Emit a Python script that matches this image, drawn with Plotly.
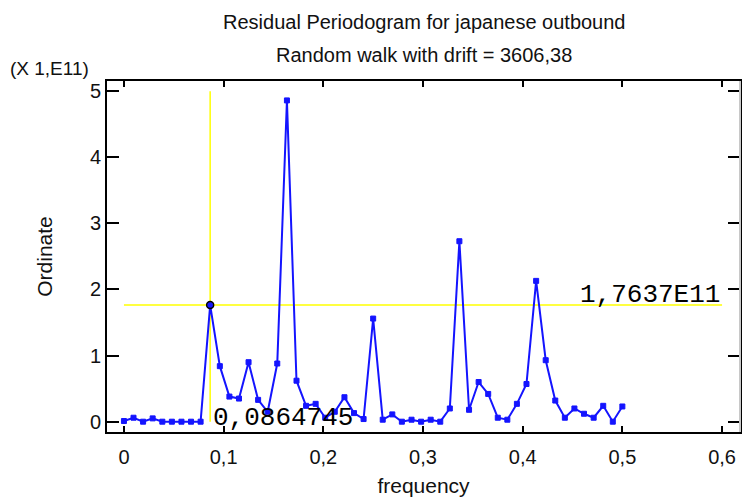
import plotly.graph_objects as go

# Fourier frequencies (cycles per period)
frequency = [
    0.0, 0.0096, 0.0192, 0.0288, 0.0385, 0.0481, 0.0577, 0.0673, 0.0769, 0.0865,
    0.0962, 0.1058, 0.1154, 0.1250, 0.1346, 0.1442, 0.1538, 0.1635, 0.1731, 0.1827,
    0.1923, 0.2019, 0.2115, 0.2212, 0.2308, 0.2404, 0.2500, 0.2596, 0.2692, 0.2788,
    0.2885, 0.2981, 0.3077, 0.3173, 0.3269, 0.3365, 0.3462, 0.3558, 0.3654, 0.3750,
    0.3846, 0.3942, 0.4038, 0.4135, 0.4231, 0.4327, 0.4423, 0.4519, 0.4615, 0.4712,
    0.4808, 0.4904, 0.5000,
]

# Periodogram ordinates, in units of 1E11
ordinate = [
    0.01, 0.06, 0.00, 0.05, 0.00, 0.00, 0.00, 0.00, 0.00, 1.7637,
    0.84, 0.38, 0.35, 0.90, 0.33, 0.15, 0.88, 4.86, 0.62, 0.24,
    0.27, 0.06, 0.15, 0.37, 0.13, 0.04, 1.56, 0.03, 0.11, 0.00,
    0.03, 0.00, 0.03, 0.00, 0.20, 2.73, 0.18, 0.60, 0.42, 0.06,
    0.03, 0.27, 0.57, 2.13, 0.93, 0.32, 0.06, 0.20, 0.12, 0.06,
    0.24, 0.00, 0.23,
]

# Cursor read-out
cursor_freq = 0.0864745
cursor_ord = 1.7637
cursor_freq_text = "0,0864745"
cursor_ord_text = "1,7637E11"

x_tick_vals = [0, 0.1, 0.2, 0.3, 0.4, 0.5, 0.6]
x_tick_text = ["0", "0,1", "0,2", "0,3", "0,4", "0,5", "0,6"]
y_tick_vals = [0, 1, 2, 3, 4, 5]
y_tick_text = ["0", "1", "2", "3", "4", "5"]

title_line1 = "Residual Periodogram for japanese outbound"
title_line2 = "Random walk with drift = 3606,38"

W, H = 742, 497
L, R, T, B = 107, 0, 81, 65

tick_font = dict(family="Liberation Sans, Arial, sans-serif", size=20, color="#111111")
axis_title_font = dict(family="Liberation Sans, Arial, sans-serif", size=21, color="#111111")
title_font = dict(family="Liberation Sans, Arial, sans-serif", size=20, color="#111111")
readout_font = dict(family="Liberation Mono, DejaVu Sans Mono, monospace", size=26,
                    color="#000000")


def px_to_paper(xp, yp):
    """Convert pixel position (from the top-left of the page) to paper coords."""
    return (xp - L) / (W - L - R), (H - B - yp) / (H - T - B)


fig = go.Figure()

fig.add_trace(go.Scatter(
    x=frequency, y=ordinate, mode="lines+markers",
    line=dict(color="#1414ff", width=2),
    marker=dict(symbol="square", size=5, color="#1414ff",
                line=dict(color="#1414ff", width=1)),
    showlegend=False, hoverinfo="x+y",
))

# highlighted periodogram point under the cursor
fig.add_trace(go.Scatter(
    x=[cursor_freq], y=[cursor_ord], mode="markers",
    marker=dict(symbol="circle-open", size=7, color="#000000", line=dict(width=1.5)),
    showlegend=False, hoverinfo="skip",
))

# cursor cross-hair
fig.add_shape(type="line", xref="x", yref="y", layer="below",
              x0=cursor_freq, x1=cursor_freq, y0=0, y1=5,
              line=dict(color="#ffff00", width=1.5))
fig.add_shape(type="line", xref="x", yref="y", layer="below",
              x0=0, x1=0.6, y0=cursor_ord, y1=cursor_ord,
              line=dict(color="#ffff00", width=1.5))

# light right-hand border of the plot frame
fig.add_shape(type="line", xref="paper", yref="paper",
              x0=1, x1=1, y0=0, y1=1, line=dict(color="#c8c8c8", width=2))

fig.add_annotation(x=cursor_freq, y=0, xref="x", yref="y", text=cursor_freq_text,
                   showarrow=False, xanchor="left", yanchor="middle", xshift=1, yshift=4,
                   font=readout_font)
fig.add_annotation(x=0.6, y=cursor_ord, xref="x", yref="y", text=cursor_ord_text,
                   showarrow=False, xanchor="right", yanchor="bottom", yshift=-7,
                   font=readout_font)

for text, (xp, yp), anchor, fnt in [
    (title_line1, (426, 22), "center", title_font),
    (title_line2, (425, 55), "center", title_font),
    ("(X 1,E11)", (8, 68), "left", dict(tick_font, size=19)),
]:
    xpap, ypap = px_to_paper(xp, yp)
    fig.add_annotation(x=xpap, y=ypap, xref="paper", yref="paper", text=text,
                       showarrow=False, xanchor=anchor, yanchor="middle", font=fnt)

fig.update_layout(
    width=W, height=H,
    margin=dict(l=L, r=R, t=T, b=B, pad=0),
    paper_bgcolor="white", plot_bgcolor="white",
    font=tick_font,
    xaxis=dict(
        range=[-0.017, 0.618], tickvals=x_tick_vals, ticktext=x_tick_text,
        ticks="inside", ticklen=6, tickwidth=1.5, tickcolor="#000000",
        showline=True, linecolor="#000000", linewidth=2, mirror="ticks",
        showgrid=False, zeroline=False, ticklabelstandoff=6,
        title=dict(text="frequency", standoff=12, font=axis_title_font),
        tickfont=tick_font,
    ),
    yaxis=dict(
        range=[-0.156, 5.154], tickvals=y_tick_vals, ticktext=y_tick_text,
        ticks="inside", ticklen=12, tickwidth=1.5, tickcolor="#000000",
        showline=True, linecolor="#000000", linewidth=2, mirror="ticks",
        showgrid=False, zeroline=False,
        title=dict(text="Ordinate", standoff=32, font=axis_title_font),
        tickfont=tick_font,
    ),
)

fig.write_html("out.html")
